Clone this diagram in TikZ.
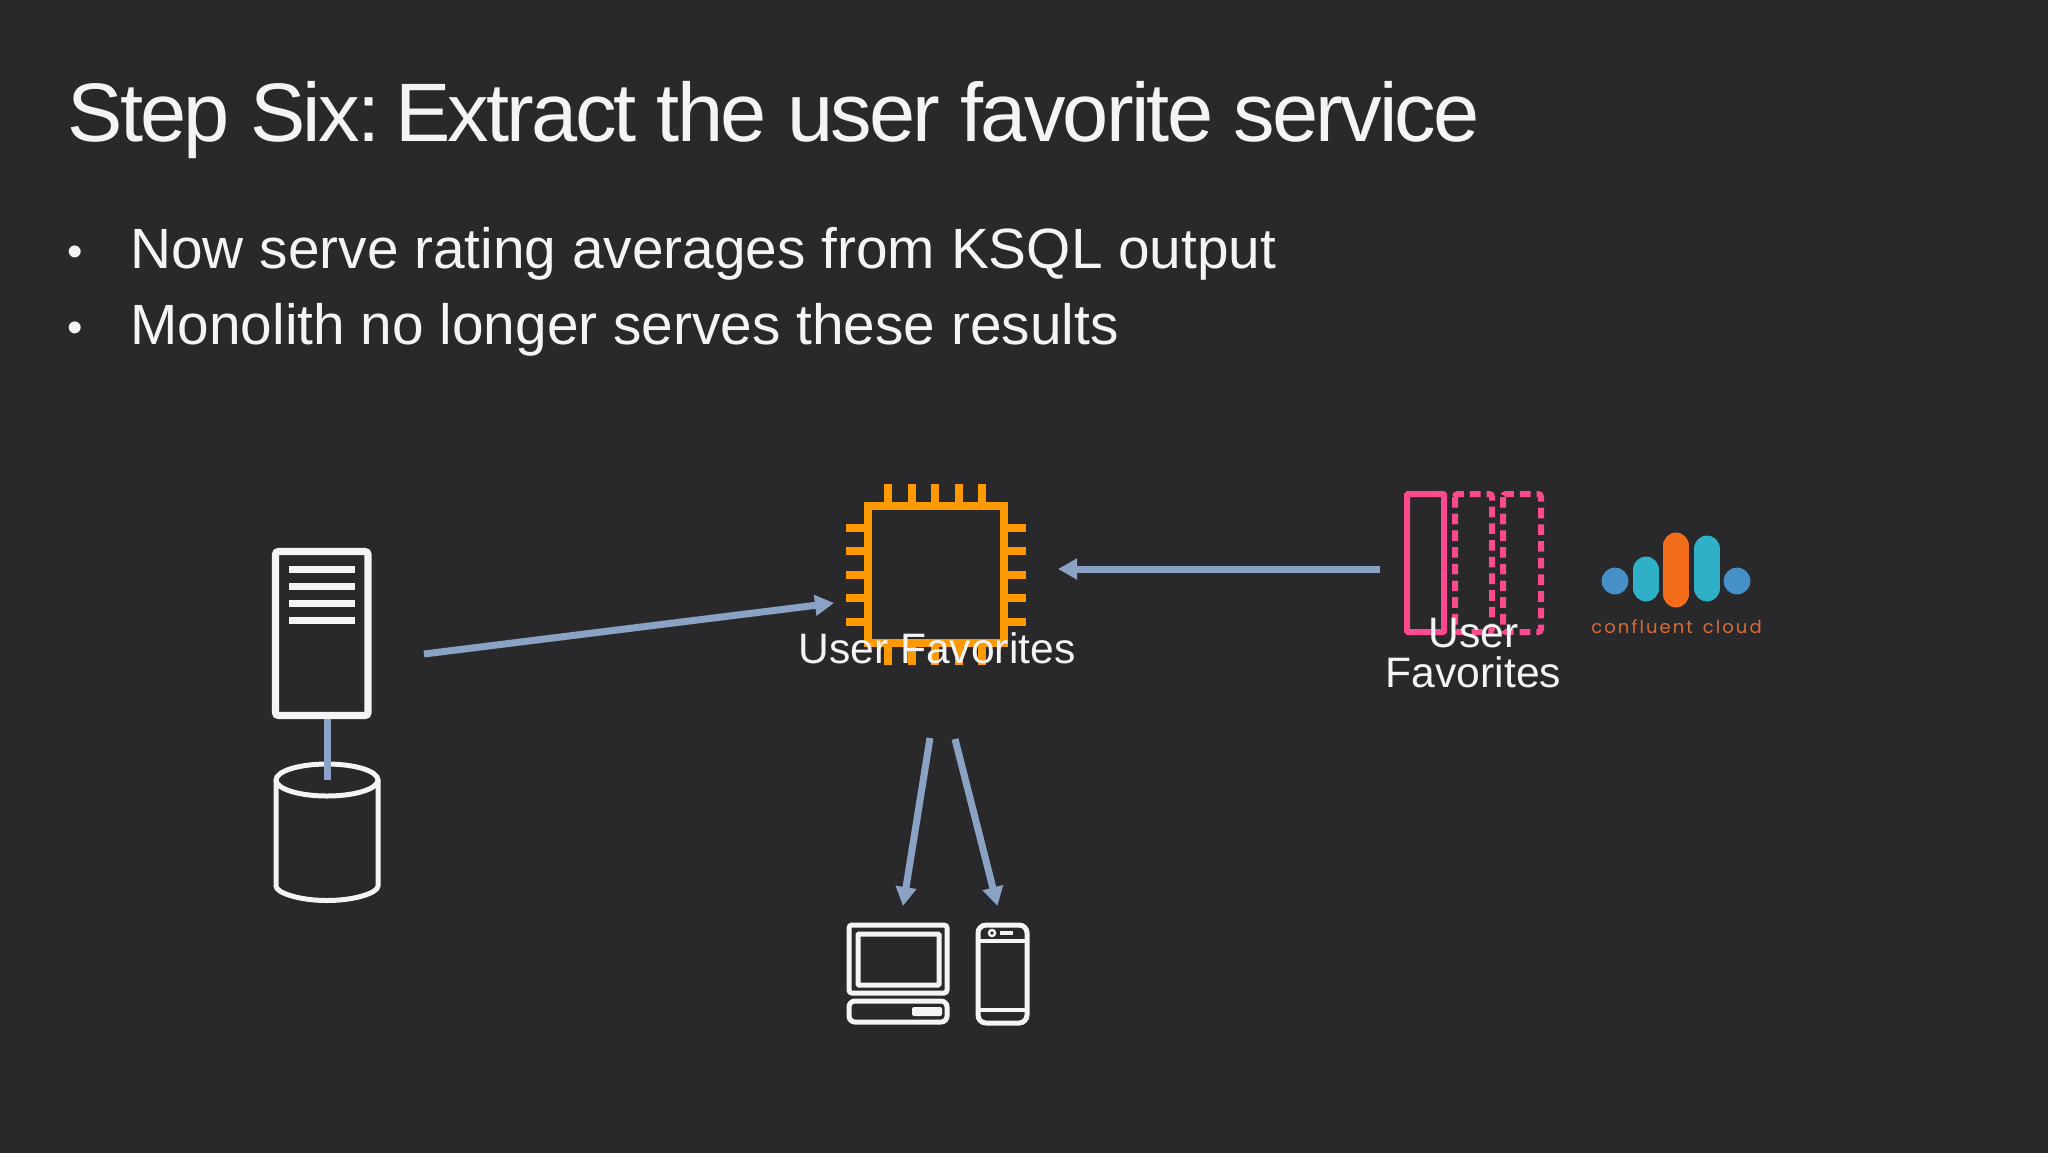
\documentclass[tikz,border=0pt]{standalone}
\usepackage{fontspec}
\setmainfont{Liberation Sans}
\newfontfamily\logofont[LetterSpace=11.5]{Poppins}
\newfontfamily\titlefont[LetterSpace=-3.35]{Liberation Sans}
\usetikzlibrary{arrows.meta}
\definecolor{bg}{HTML}{29292B}
\definecolor{ink}{HTML}{F4F4F4}
\definecolor{arrowblue}{HTML}{8AA2C4}
\definecolor{chip}{HTML}{FF9900}
\definecolor{topic}{HTML}{FB4A8D}
\definecolor{logoblue}{HTML}{4690C8}
\definecolor{logoteal}{HTML}{30B0C8}
\definecolor{logoorange}{HTML}{F46D1B}
\definecolor{logotext}{HTML}{D86C33}
\tikzset{
  x=0.5pt,y=-0.5pt,
  flow/.style={draw=arrowblue,line width=3.5pt,-{Triangle[length=9.5pt,width=10pt]}},
  link/.style={draw=arrowblue,line width=3.5pt},
  icon/.style={draw=ink,line width=2.5pt,rounded corners=1.5pt},
  pin/.style={draw=chip,line width=3.8pt},
  topicbox/.style={draw=topic,line width=3pt,rounded corners=0.5pt},
  topicdash/.style={draw=topic,line width=3pt,dash pattern=on 5.3pt off 3.05pt,rounded corners=1.5pt},
  label/.style={text=ink,font=\fontsize{21.3}{25}\selectfont,inner sep=0pt,anchor=base},
  bullet/.style={text=ink,font=\fontsize{28.4}{33}\selectfont,inner sep=0pt,anchor=base west},
  dot/.style={text=ink,font=\fontsize{22}{26}\selectfont,inner sep=0pt,anchor=base west},
  pill/.style={line cap=round,line width=13.4pt},
}
\begin{document}
\begin{tikzpicture}
\useasboundingbox (0,0) rectangle (2048,1152);
\fill[bg] (-4,-4) rectangle (2052,1156);
\node[text=ink,font=\titlefont\fontsize{41.5}{50}\selectfont,inner sep=0pt,anchor=base west] (title) at (67,141) {Step Six:\hspace{-6pt} Extract the user favorite service};
\node[dot] (b1) at (67,266) {•};
\node[bullet] (t1) at (130,268) {Now serve rating averages from KSQL output};
\node[dot] (b2) at (67,342) {•};
\node[bullet] (t2) at (130,344) {Monolith no longer serves these results};
% server
\draw[icon,line width=3.6pt] (275.5,551.5) rectangle (368,715.5);
\foreach \yy in {569,586,603,620} \draw[draw=ink,line width=3.5pt] (289,\yy) -- (355,\yy);
% database
\draw[icon,line cap=round] (276,780) arc[start angle=180,end angle=540,x radius=51,y radius=-16];
\draw[icon] (276,780) -- (276,883) arc[start angle=180,end angle=360,x radius=51,y radius=-17.5] -- (378,780);
\coordinate (srvb) at (327,719);
\coordinate (dbin) at (327,780);
\draw[link] (srvb) -- (dbin);
% chip
\foreach \xx in {888,912,935,959,982} \draw[pin] (\xx,484) -- (\xx,665);
\foreach \yy in {528,551,575,598,622} \draw[pin] (846,\yy) -- (1026,\yy);
\fill[bg] (868,506) rectangle (1004,643);
\draw[draw=chip,line width=4pt] (868,506) rectangle (1004,643);
\node[label] (chiplabel) at (937,663) {User Favorites};
% topic
\draw[topicbox] (1407,494) rectangle (1444,632);
\draw[topicdash] (1455,494) rectangle (1492,632);
\draw[topicdash] (1503,494) rectangle (1541,632);
\node[label] (topicu) at (1473.5,647) {User};
\node[label] (topicf) at (1473.5,687) {Favorites};
% logo
\fill[logoblue] (1615,581) circle[radius=13.4];
\fill[logoblue] (1737,581) circle[radius=13.4];
\draw[logoteal,pill] (1646,570) -- (1646,588);
\draw[logoorange,pill] (1676,546) -- (1676,594);
\draw[logoteal,pill] (1707,549) -- (1707,588);
\node[text=logotext,font=\logofont\fontsize{9}{11}\selectfont,inner sep=0pt,anchor=base] (logotxt) at (1676.5,633) {confluent\hspace{1.5pt} cloud};
% devices
\draw[icon] (849,925) rectangle (947,993);
\draw[icon,rounded corners=0.5pt] (858,934) rectangle (939,985);
\draw[icon,rounded corners=3pt] (849,1001) rectangle (947,1022);
\fill[ink,rounded corners=1pt] (912,1007) rectangle (942,1016);
\draw[icon,rounded corners=4pt] (978,925) rectangle (1027,1023);
\draw[draw=ink,line width=2.2pt] (978,941) -- (1027,941);
\draw[draw=ink,line width=2.2pt] (978,1010) -- (1027,1010);
\draw[draw=ink,line width=1.2pt] (992,933) circle[radius=3];
\draw[draw=ink,line width=1.8pt] (1000,933) -- (1013,933);
% arrows
\coordinate (srvout) at (424,654);
\coordinate (chipin) at (834,603);
\coordinate (topicout) at (1380,569);
\coordinate (chipinr) at (1058,569);
\coordinate (favl) at (930,738);
\coordinate (laptop) at (903,906);
\coordinate (favr) at (955,739);
\coordinate (phone) at (997.5,906);
\draw[flow] (srvout) -- (chipin);
\draw[flow] (topicout) -- (chipinr);
\draw[flow] (favl) -- (laptop);
\draw[flow] (favr) -- (phone);
\end{tikzpicture}
\end{document}
